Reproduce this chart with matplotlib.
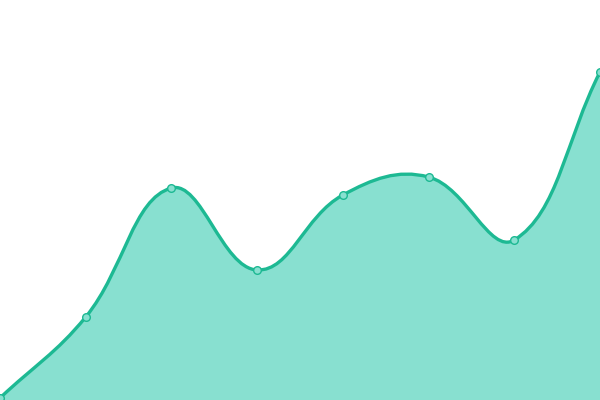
import numpy as np
import matplotlib
matplotlib.use("Agg")
import matplotlib.pyplot as plt
from matplotlib.path import Path
from matplotlib.patches import PathPatch

# values (0 = bottom edge, 400 = top edge)
x_vals = [0, 1, 2, 3, 4, 5, 6, 7]
y_vals = [2, 83, 212, 130, 205, 223, 160, 328]

line_color = "#1db993"
fill_color = "#88e0d0"
tension = 0.4


def spline_path(ax, xs, ys, t):
    # chart.js style control points, computed in display space
    pts = ax.transData.transform(np.column_stack([xs, ys]))
    n = len(pts)
    cps = []
    for i in range(n):
        prev = pts[max(i - 1, 0)]
        cur = pts[i]
        nxt = pts[min(i + 1, n - 1)]
        d01 = np.hypot(*(cur - prev))
        d12 = np.hypot(*(nxt - cur))
        tot = d01 + d12
        s01 = d01 / tot if tot else 0
        s12 = d12 / tot if tot else 0
        fa, fb = t * s01, t * s12
        cps.append((cur - fa * (nxt - prev), cur + fb * (nxt - prev)))
    verts = [pts[0]]
    codes = [Path.MOVETO]
    for i in range(1, n):
        verts += [cps[i - 1][1], cps[i][0], pts[i]]
        codes += [Path.CURVE4] * 3
    inv = ax.transData.inverted()
    return inv.transform(np.array(verts)), codes


fig = plt.figure(figsize=(6, 4), dpi=100)
ax = fig.add_axes([0, 0, 1, 1])
ax.set_xlim(0, 7)
ax.set_ylim(0, 400)
ax.axis("off")

verts, codes = spline_path(ax, x_vals, y_vals, tension)
line = Path(verts, codes)
area = Path(
    np.vstack([verts, [[x_vals[-1], 0], [x_vals[0], 0], verts[0]]]),
    codes + [Path.LINETO, Path.LINETO, Path.CLOSEPOLY],
)
ax.add_patch(PathPatch(area, facecolor=fill_color, edgecolor="none", zorder=1))
ax.add_patch(PathPatch(line, facecolor="none", edgecolor=line_color, lw=2.4, zorder=2))
ax.plot(x_vals, y_vals, "o", ms=5.5, mfc=fill_color, mec=line_color, mew=1.0,
        zorder=3, clip_on=False)

fig.savefig("out.png", dpi=100)
